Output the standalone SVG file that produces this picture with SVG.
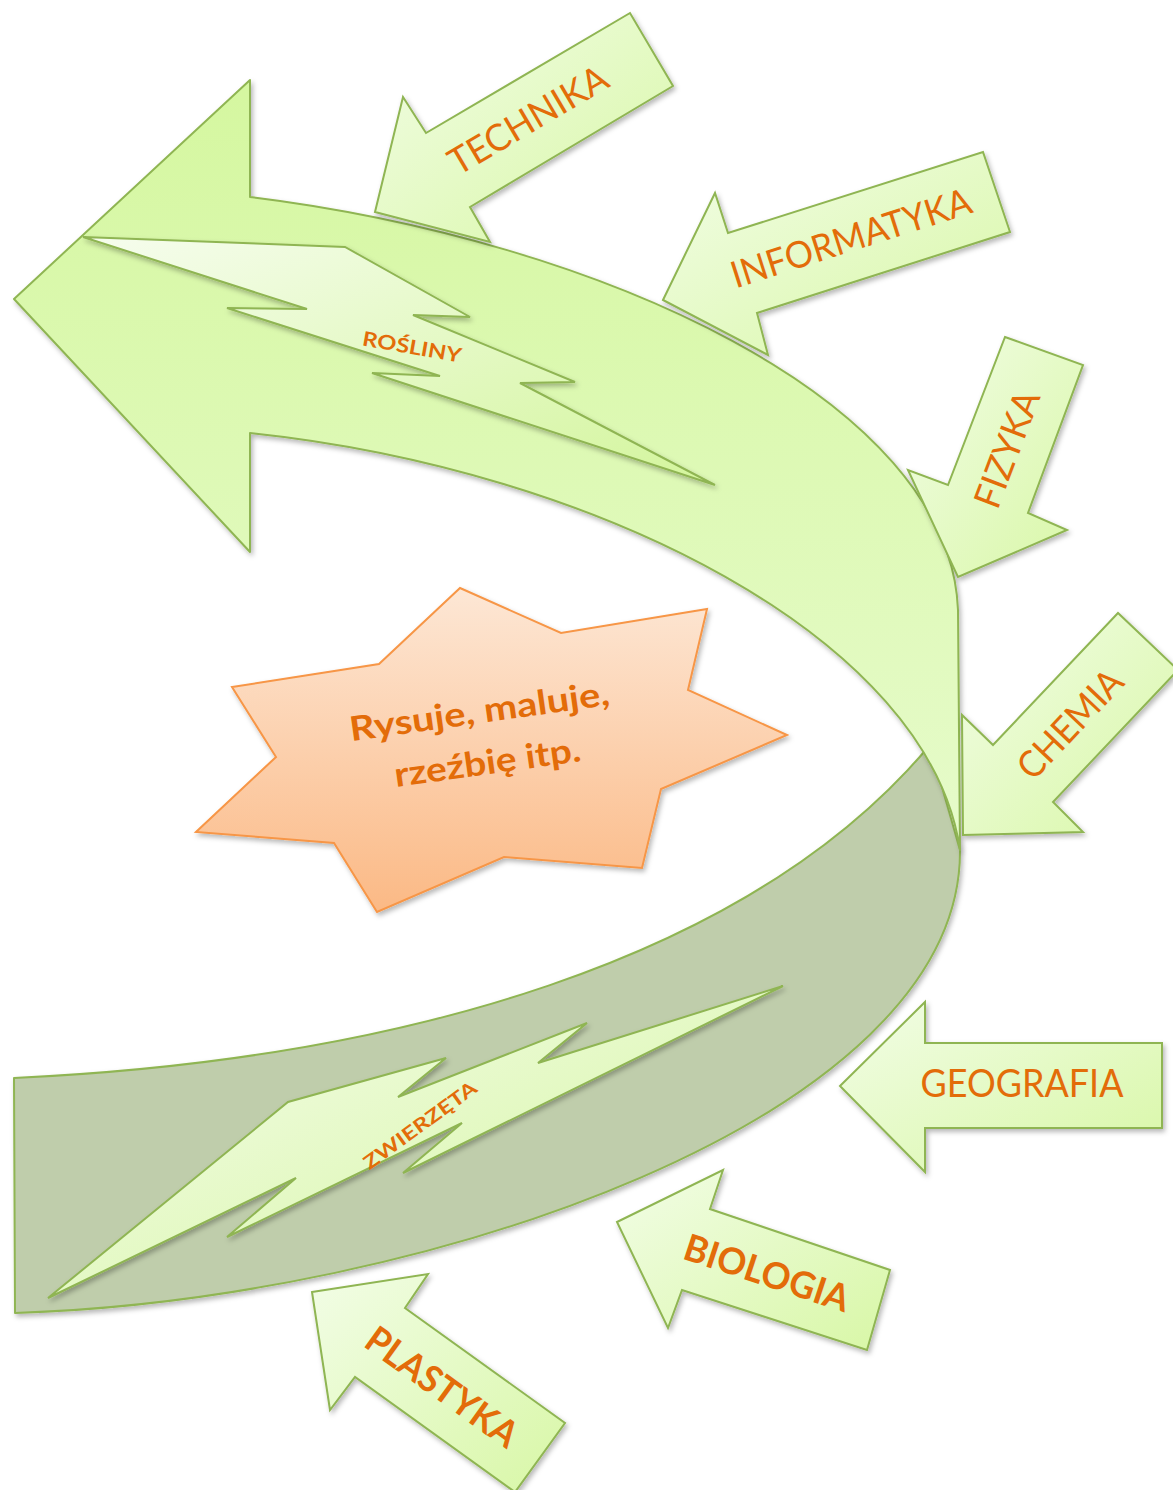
<svg xmlns="http://www.w3.org/2000/svg" width="1173" height="1490" viewBox="0 0 1173 1490">
<defs>
<linearGradient id="gBand" gradientUnits="userSpaceOnUse" x1="0" y1="80" x2="0" y2="850"><stop offset="0" stop-color="#d5f7a0"/><stop offset="1" stop-color="#e6fbca"/></linearGradient>
<linearGradient id="gArrow" x1="0" y1="0" x2="1" y2="1"><stop offset="0" stop-color="#f2fde6"/><stop offset="1" stop-color="#d8f7a6"/></linearGradient>
<linearGradient id="gBolt" x1="0" y1="0" x2="1" y2="1"><stop offset="0" stop-color="#f6fdee"/><stop offset="1" stop-color="#d3f59c"/></linearGradient>
<linearGradient id="gStar" x1="0" y1="0" x2="0" y2="1"><stop offset="0" stop-color="#fde7d5"/><stop offset="1" stop-color="#fbb985"/></linearGradient>
<filter id="sh" x="-10%" y="-10%" width="120%" height="120%"><feDropShadow dx="2" dy="3" stdDeviation="2.5" flood-color="#000" flood-opacity="0.28"/></filter>
</defs>
<style>
.band{stroke:#8fb552;stroke-width:2;stroke-linejoin:round;filter:url(#sh)}
.arr{fill:url(#gArrow);stroke:#8fb552;stroke-width:2;stroke-linejoin:miter;filter:url(#sh)}
.bolt{fill:url(#gBolt);stroke:#8fb552;stroke-width:2;stroke-linejoin:miter;filter:url(#sh)}
.t{fill:#e36c09;font-family:Lato,"Open Sans","Liberation Sans",sans-serif;text-anchor:middle}
.b{font-weight:bold}
</style>
<g id="band-lower">
<path class="band" fill="#bfcdab" d="M14,1078 C400,1060 750,960 930,745 L960,850 C962,1120 420,1300 15,1313 Z"/>
</g>
<g id="band-upper">
<path class="band" fill="url(#gBand)" d="M14,299 L250,80 L250,197 C600,240 950,400 958,610 L960,850 C930,640 600,470 250,433 L250,552 Z"/>
</g>
<g id="rosliny">
<polygon class="bolt" points="83,237 345,247 470,317 413,315 575,382 520,383 715,485 372,373 440,376 227,308 307,309"/>
<text class="t b" font-size="20" textLength="100" lengthAdjust="spacingAndGlyphs" transform="translate(412,347) rotate(10)" y="7">ROŚLINY</text>
</g>
<g id="zwierzeta">
<polygon class="bolt" points="48,1298 288,1102 446,1058 398,1097 587,1023 538,1063 783,986 403,1173 462,1123 227,1237 296,1178"/>
<text class="t b" font-size="19" textLength="135" lengthAdjust="spacingAndGlyphs" transform="translate(420,1125) rotate(-36)" y="7">ZWIERZĘTA</text>
</g>
<g id="star">
<polygon fill="url(#gStar)" stroke="#f79646" stroke-width="2" filter="url(#sh)" points="460,588 561,633 707,609 688,690 787,735 661,789 642,868 504,857 377,912 334,843 196,832 276,757 232,687 379,664"/>
<text class="t b" font-size="34" textLength="262" lengthAdjust="spacingAndGlyphs" transform="translate(481,723) rotate(-8)">Rysuje, maluje,</text>
<text class="t b" font-size="34" textLength="188" lengthAdjust="spacingAndGlyphs" transform="translate(489,774) rotate(-8)">rzeźbię itp.</text>
</g>
<g id="technika">
<polygon class="arr" points="375,212 403,97 426,133 630,13 673,86 470,207 490,242"/>
<text class="t" font-size="37" textLength="178" lengthAdjust="spacingAndGlyphs" transform="translate(528,120) rotate(-30.5)" y="13">TECHNIKA</text>
</g>
<g id="informatyka">
<polygon class="arr" points="663,300 715,193 728,233 983,152 1010,232 757,313 768,355"/>
<text class="t" font-size="37" textLength="250" lengthAdjust="spacingAndGlyphs" transform="translate(851,238) rotate(-17.7)" y="13">INFORMATYKA</text>
</g>
<g id="fizyka">
<polygon class="arr" points="1005,337 1083,365 1028,513 1067,530 958,577 908,470 948,485"/>
<text class="t" font-size="37" textLength="122" lengthAdjust="spacingAndGlyphs" transform="translate(1007,449) rotate(-69.3)" y="13">FIZYKA</text>
</g>
<g id="chemia">
<polygon class="arr" points="963,835 962,715 993,745 1118,613 1178,670 1053,802 1083,832"/>
<text class="t" font-size="37" textLength="135" lengthAdjust="spacingAndGlyphs" transform="translate(1070,724) rotate(-46.6)" y="13">CHEMIA</text>
</g>
<g id="geografia">
<polygon class="arr" points="840,1086 925,1002 925,1043 1162,1043 1162,1128 925,1128 925,1172"/>
<text class="t" font-size="38" textLength="203" lengthAdjust="spacingAndGlyphs" x="1022" y="1097">GEOGRAFIA</text>
</g>
<g id="biologia">
<polygon class="arr" points="617,1222 723,1170 710,1209 890,1270 867,1350 682,1290 668,1328"/>
<text class="t b" font-size="37" textLength="172" lengthAdjust="spacingAndGlyphs" transform="translate(767,1273) rotate(18.3)" y="13">BIOLOGIA</text>
</g>
<g id="plastyka">
<polygon class="arr" points="312,1292 428,1274 405,1308 565,1423 515,1492 355,1377 330,1410"/>
<text class="t b" font-size="37" textLength="178" lengthAdjust="spacingAndGlyphs" transform="translate(442,1387) rotate(35.7)" y="13">PLASTYKA</text>
</g>
<g id="connectors"></g>
</svg>
